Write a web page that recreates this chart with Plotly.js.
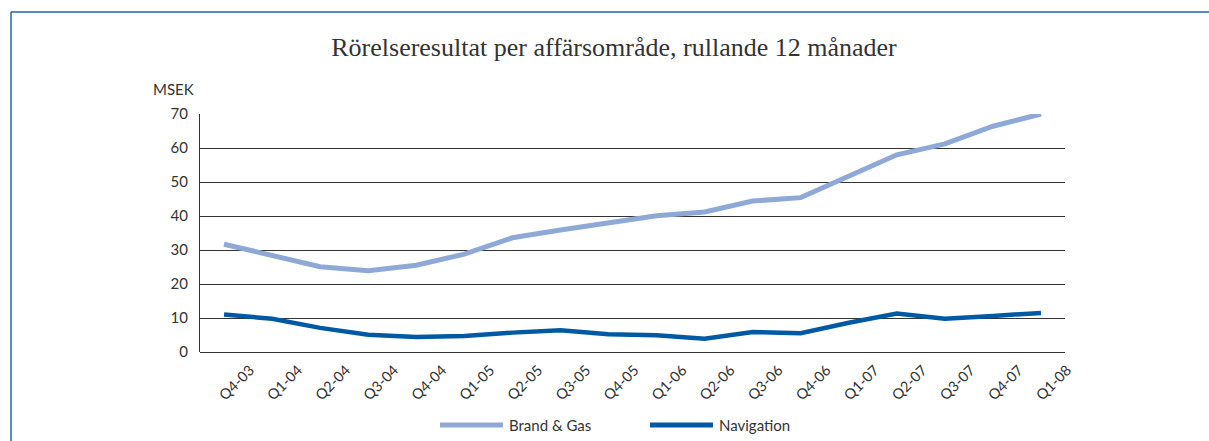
<!DOCTYPE html>
<html>
<head>
<meta charset="utf-8">
<script src="https://cdn.plot.ly/plotly-3.0.1.min.js"></script>
<style>
html,body{margin:0;padding:0;background:#fff;}
#chart{width:1209px;height:441px;}
</style>
</head>
<body>
<div id="chart"></div>
<script>
const quarters = ["Q4-03","Q1-04","Q2-04","Q3-04","Q4-04","Q1-05","Q2-05","Q3-05","Q4-05","Q1-06","Q2-06","Q3-06","Q4-06","Q1-07","Q2-07","Q3-07","Q4-07","Q1-08"];
const brandGas   = [31.7,28.5,25.1,23.9,25.5,28.8,33.6,35.9,38.0,40.1,41.2,44.4,45.4,51.8,58.0,61.2,66.4,70.0];
const navigation = [11.0,9.8,7.1,5.1,4.4,4.7,5.7,6.4,5.2,4.9,3.9,5.9,5.5,8.6,11.3,9.8,10.6,11.5];
const seriesNames = ["Brand & Gas","Navigation"];
const seriesColors = ["#8fa9d7", "#005aa3"];
const yTicks = [0,10,20,30,40,50,60,70];

const W = 1209, H = 441;
const mL = 200, mR = 144, mT = 114, mB = 89;
const pw = W - mL - mR, ph = H - mT - mB;
const px = v => (v - mL) / pw;
const py = v => (H - mB - v) / ph;
const FONT = "Lato, 'Open Sans', sans-serif";

const traces = [
  {x: quarters.slice(0, brandGas.length), y: brandGas, name: seriesNames[0], type: "scatter", mode: "lines",
   line: {color: seriesColors[0], width: 5}},
  {x: quarters.slice(0, navigation.length), y: navigation, name: seriesNames[1], type: "scatter", mode: "lines",
   line: {color: seriesColors[1], width: 4.5}}
];

// legend drawn as line + label, built from series names/colours
const legendX = [440, 650];
const legendY = 425;
const legendShapes = seriesNames.map((n, i) => ({
  type: "line", xref: "paper", yref: "paper",
  x0: px(legendX[i]), x1: px(legendX[i] + 63), y0: py(legendY), y1: py(legendY),
  line: {color: seriesColors[i], width: 5}
}));
const legendAnn = seriesNames.map((n, i) => ({
  text: n, xref: "paper", yref: "paper", x: px(legendX[i] + 67), y: py(legendY),
  xanchor: "left", yanchor: "middle", showarrow: false,
  font: {family: FONT, size: 15, color: "#333"}
}));

const layout = {
  width: W, height: H,
  margin: {l: mL, r: mR, t: mT, b: mB, pad: 0, autoexpand: false},
  paper_bgcolor: "#ffffff", plot_bgcolor: "#ffffff",
  showlegend: false,
  title: {text: "Rörelseresultat per affärsområde, rullande 12 månader",
          font: {family: "'Liberation Serif', 'DejaVu Serif', serif", size: 26, color: "#333"},
          x: 614 / W, xref: "container", xanchor: "center", y: 1 - 47 / H, yanchor: "middle"},
  xaxis: {type: "category", categoryarray: quarters, range: [-0.5, quarters.length - 0.5],
          showgrid: false, zeroline: false, showline: false, ticks: "", automargin: false,
          tickangle: -45, ticklabelshift: 26, ticklabelstandoff: 6,
          tickfont: {family: FONT, size: 14.5, color: "#333"}},
  yaxis: {range: [0, 70], tickvals: yTicks, showgrid: true, gridcolor: "#333", gridwidth: 1,
          zeroline: true, zerolinecolor: "#333", zerolinewidth: 1, automargin: false,
          showline: true, linecolor: "#333", linewidth: 1, ticks: "",
          ticklabelstandoff: 8,
          tickfont: {family: FONT, size: 15, color: "#333"}},
  annotations: [
    {text: "MSEK", xref: "paper", yref: "paper", x: px(196), y: py(89), xanchor: "right", yanchor: "middle",
     showarrow: false, font: {family: FONT, size: 15, color: "#333"}}
  ].concat(legendAnn),
  shapes: [
    {type: "line", xref: "paper", yref: "paper", x0: px(11), x1: px(1210), y0: py(12), y1: py(12),
     line: {color: "#1f66ad", width: 1.5}},
    {type: "line", xref: "paper", yref: "paper", x0: px(11), x1: px(11), y0: py(12), y1: py(442),
     line: {color: "#1f66ad", width: 1.5}}
  ].concat(legendShapes)
};

Plotly.newPlot("chart", traces, layout, {displayModeBar: false, staticPlot: true});
</script>
</body>
</html>
